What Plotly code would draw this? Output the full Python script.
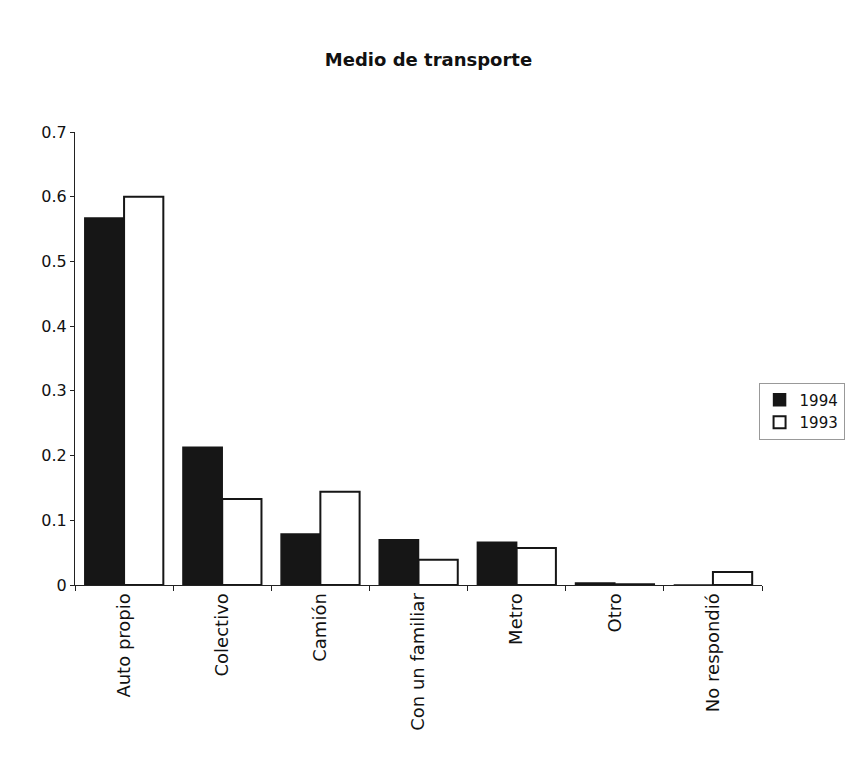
import plotly.graph_objects as go

categories = ["Auto propio", "Colectivo", "Camión", "Con un familiar", "Metro", "Otro", "No respondió"]
values_1994 = [0.567, 0.213, 0.079, 0.070, 0.066, 0.003, 0.0]
values_1993 = [0.600, 0.133, 0.144, 0.039, 0.057, 0.001, 0.020]
y_ticks = [0, 0.1, 0.2, 0.3, 0.4, 0.5, 0.6, 0.7]
y_tick_labels = ["0", "0.1", "0.2", "0.3", "0.4", "0.5", "0.6", "0.7"]

font_family = "DejaVu Sans, Liberation Sans, Arial, sans-serif"

fig = go.Figure()
fig.add_trace(go.Bar(name="1994", x=categories, y=values_1994,
                     marker=dict(color="#161616", line=dict(color="#161616", width=1.5))))
fig.add_trace(go.Bar(name="1993", x=categories, y=values_1993,
                     marker=dict(color="white", line=dict(color="#161616", width=2))))

fig.update_layout(
    width=857, height=763,
    paper_bgcolor="white", plot_bgcolor="white",
    barmode="group", bargap=0.2, bargroupgap=0.0,
    margin=dict(l=75, r=90, t=132, b=178),
    title=dict(text="<b>Medio de transporte</b>", x=0.5, xanchor="center",
               y=1 - 60 / 763, yanchor="middle",
               font=dict(family=font_family, size=18, color="#111")),
    font=dict(family=font_family, size=15, color="#111"),
    legend=dict(x=0.995, xanchor="left", xref="paper", y=0.384, yanchor="middle",
                bordercolor="#999", borderwidth=1, bgcolor="white",
                font=dict(family=font_family, size=15, color="#111"),
                traceorder="normal", itemwidth=30),
    showlegend=True,
)
fig.update_xaxes(type="category", tickangle=-90, showline=True, linecolor="#222", linewidth=1,
                 ticks="outside", tickson="boundaries", ticklen=5, tickcolor="#222",
                 showgrid=False, tickfont=dict(family=font_family, size=18, color="#111"))
fig.update_yaxes(range=[0, 0.7], tickvals=y_ticks, ticktext=y_tick_labels,
                 showline=True, linecolor="#222", linewidth=1, ticks="outside", ticklen=4,
                 tickcolor="#222", showgrid=False, zeroline=False,
                 tickfont=dict(family=font_family, size=16, color="#111"))

fig.write_html("out.html")
